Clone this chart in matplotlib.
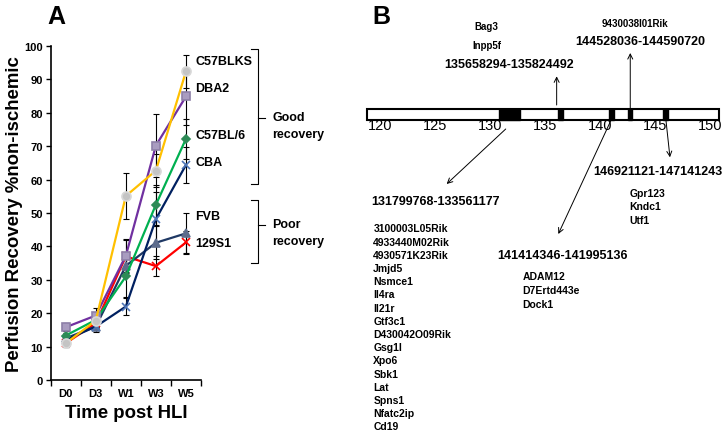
import matplotlib
matplotlib.use('Agg')
import matplotlib.pyplot as plt
from matplotlib.patches import Rectangle

plt.rcParams['font.family'] = ['Liberation Sans', 'DejaVu Sans']

# ---- panel A data ----
timepoints = ['D0', 'D3', 'W1', 'W3', 'W5']
strains = ['129S1', 'FVB', 'CBA', 'C57BL/6', 'DBA2', 'C57BLKS']
recovery = {
    '129S1':   [11.0, 17.0, 37.0, 34.1, 41.2],
    'FVB':     [12.5, 16.0, 34.2, 41.1, 43.9],
    'CBA':     [12.0, 16.0, 22.0, 48.2, 64.4],
    'C57BL/6': [13.3, 18.0, 31.0, 52.5, 72.2],
    'DBA2':    [15.8, 19.3, 37.2, 70.2, 84.9],
    'C57BLKS': [11.0, 17.8, 55.1, 62.7, 92.4],
}
errors = {
    '129S1':   [1.0, 1.5, 5.0, 3.0, 3.5],
    'FVB':     [1.5, 1.5, 3.0, 5.0, 6.0],
    'CBA':     [1.5, 1.0, 2.5, 8.0, 5.4],
    'C57BL/6': [1.5, 2.0, 6.0, 6.0, 6.0],
    'DBA2':    [1.2, 2.2, 5.0, 9.5, 8.5],
    'C57BLKS': [1.0, 2.0, 7.0, 5.0, 5.0],
}
label_y = {'C57BLKS': 95.4, 'DBA2': 87.3, 'C57BL/6': 73.4,
           'CBA': 65.4, 'FVB': 49.0, '129S1': 40.9}

styles = {
    '129S1':   dict(color='#FF0000', marker='x', mfc='#FF0000', mec='#FF0000', ms=6),
    'FVB':     dict(color='#1F3864', marker='^', mfc='#5D6C8C', mec='#5D6C8C', ms=6),
    'CBA':     dict(color='#002060', marker='x', mfc='#4F76B8', mec='#4F76B8', ms=6),
    'C57BL/6': dict(color='#00B050', marker='D', mfc='#2E8B57', mec='#2E8B57', ms=4),
    'DBA2':    dict(color='#7030A0', marker='s', mfc='#A99CC0', mec='#8E80A8', ms=6),
    'C57BLKS': dict(color='#FFC000', marker='o', mfc='#C4C4C4', mec='#D8D8D8', ms=6.5),
}

# ---- panel B data ----
tick_mb = [120, 125, 130, 135, 140, 145, 150]
chrom_start, chrom_end = 118.8, 150.8
seg_start = [130.85, 136.15, 140.8, 142.5, 145.75]
seg_end = [132.7, 136.6, 141.3, 142.9, 146.2]
region_labels = ['131799768-133561177', '135658294-135824492',
                 '141414346-141995136', '144528036-144590720',
                 '146921121-147141243']
region_genes = [
    ['3100003L05Rik', '4933440M02Rik', '4930571K23Rik', 'Jmjd5', 'Nsmce1',
     'Il4ra', 'Il21r', 'Gtf3c1', 'D430042O09Rik', 'Gsg1l', 'Xpo6', 'Sbk1',
     'Lat', 'Spns1', 'Nfatc2ip', 'Cd19'],
    ['Bag3', 'Inpp5f'],
    ['ADAM12', 'D7Ertd443e', 'Dock1'],
    ['9430038I01Rik'],
    ['Gpr123', 'Kndc1', 'Utf1'],
]

fig = plt.figure(figsize=(7.25, 4.35), dpi=100)
W, H = 725, 435

# ================= panel A =================
ax = fig.add_axes([50.7 / W, 1 - 381 / H, 150.3 / W, 334 / H])
x = list(range(len(timepoints)))
for s in strains:
    ax.errorbar(x, recovery[s], yerr=errors[s], fmt='none', ecolor='black',
                elinewidth=0.8, capsize=2.5, capthick=0.8, zorder=1)
for s in strains:
    st = styles[s]
    ax.plot(x, recovery[s], color=st['color'], lw=1.6, marker=st['marker'],
            ms=st['ms'], mfc=st['mfc'], mec=st['mec'], mew=1.2, zorder=2)
    ax.text(4.32, label_y[s], s, fontsize=9, fontweight='bold',
            ha='left', va='center')

ax.set_xlim(-0.5, 4.5)
ax.set_ylim(0, 100)
ax.set_yticks(range(0, 101, 10))
ax.set_xticks(x)
ax.set_xticklabels(timepoints)
ax.set_xticks([i - 0.5 for i in range(6)], minor=True)
ax.tick_params(axis='x', which='major', length=0, pad=6)
ax.tick_params(axis='x', which='minor', length=4, width=1, direction='out')
ax.tick_params(axis='y', length=3.5, width=1, direction='out', pad=2)
for lab in ax.get_xticklabels() + ax.get_yticklabels():
    lab.set_fontweight('bold')
    lab.set_fontsize(8)
ax.spines['top'].set_visible(False)
ax.spines['right'].set_visible(False)
ax.spines['left'].set_linewidth(1.2)
ax.spines['bottom'].set_linewidth(1.2)
ax.set_xlabel('Time post HLI', fontsize=13.4, fontweight='bold', labelpad=4)
ax.set_ylabel('Perfusion Recovery %non-ischemic', fontsize=13.4,
              fontweight='bold', labelpad=1)


def bracket(y0, y1, ymid, text):
    xb = 6.386
    ax.plot([xb - 0.22, xb, xb, xb - 0.22], [y1, y1, y0, y0],
            color='black', lw=0.8, clip_on=False)
    ax.plot([xb, xb + 0.24], [ymid, ymid], color='black', lw=0.8, clip_on=False)
    ax.text(6.87, ymid + 0.3, text[0], fontsize=9, fontweight='bold',
            ha='left', va='center')
    ax.text(6.87, ymid - 4.8, text[1], fontsize=9, fontweight='bold',
            ha='left', va='center')


bracket(58.6, 99.1, 78.4, ('Good', 'recovery'))
bracket(34.9, 53.9, 46.3, ('Poor', 'recovery'))

fig.text(56.7 / W, 1 - 16.7 / H, 'A', fontsize=18, fontweight='bold',
         ha='center', va='center')
fig.text(381.7 / W, 1 - 16.7 / H, 'B', fontsize=18, fontweight='bold',
         ha='center', va='center')

# ================= panel B =================
bx = fig.add_axes([340 / W, 0, 385 / W, 1])
bx.set_xlim(120 - 40 / 11, 120 + 345 / 11)
bx.set_ylim(435, 0)
bx.axis('off')

bar_top, bar_bot = 110.3, 120.7
bx.add_patch(Rectangle((chrom_start, bar_top), chrom_end - chrom_start,
                       bar_bot - bar_top, facecolor='white',
                       edgecolor='black', lw=1.5))
for a, b in zip(seg_start, seg_end):
    bx.add_patch(Rectangle((a, bar_top), b - a, bar_bot - bar_top,
                           facecolor='black', edgecolor='black', lw=1.0))
for t in tick_mb:
    bx.text(t, 125.5, str(t), fontsize=10.5, ha='center', va='center')

arrow = dict(arrowstyle='->', lw=0.7, color='black', shrinkA=0, shrinkB=0,
             mutation_scale=9)
# (arrow tail, arrow head, label position, gene list start, line step)
layout = [
    ((131.43, 130), (126.06, 185), (125.0, 201.7), (119.39, 229.5), 13.2),
    ((136.06, 106), (136.06, 77.3), (131.75, 65.0), None, 19.0),
    ((140.98, 121.7), (136.21, 235), (136.6, 255.7), (132.94, 277.3), 13.7),
    ((142.75, 111.7), (142.75, 54.0), (143.64, 41.7), None, 17.7),
    ((146.0, 121.7), (146.36, 158.3), (145.3, 172.3), (142.66, 194.0), 13.4),
]
for (tail, head, lab_pos, gene_pos, step), lab, genes in zip(
        layout, region_labels, region_genes):
    bx.annotate('', xy=head, xytext=tail, arrowprops=arrow)
    bx.text(lab_pos[0], lab_pos[1], lab, fontsize=9, fontweight='bold',
            ha='center', va='center')
    if gene_pos is not None:
        for k, g in enumerate(genes):
            bx.text(gene_pos[0], gene_pos[1] + k * step, g, fontsize=7.5,
                    fontweight='bold', ha='left', va='center')
    else:
        # genes stacked above the label
        n = len(genes)
        gx = lab_pos[0] - 2.05 if n > 1 else lab_pos[0] - 0.46
        for k, g in enumerate(genes):
            bx.text(gx, lab_pos[1] - (n - k) * step, g, fontsize=7,
                    fontweight='bold', ha='center', va='center')

fig.savefig('out.png', dpi=100)
